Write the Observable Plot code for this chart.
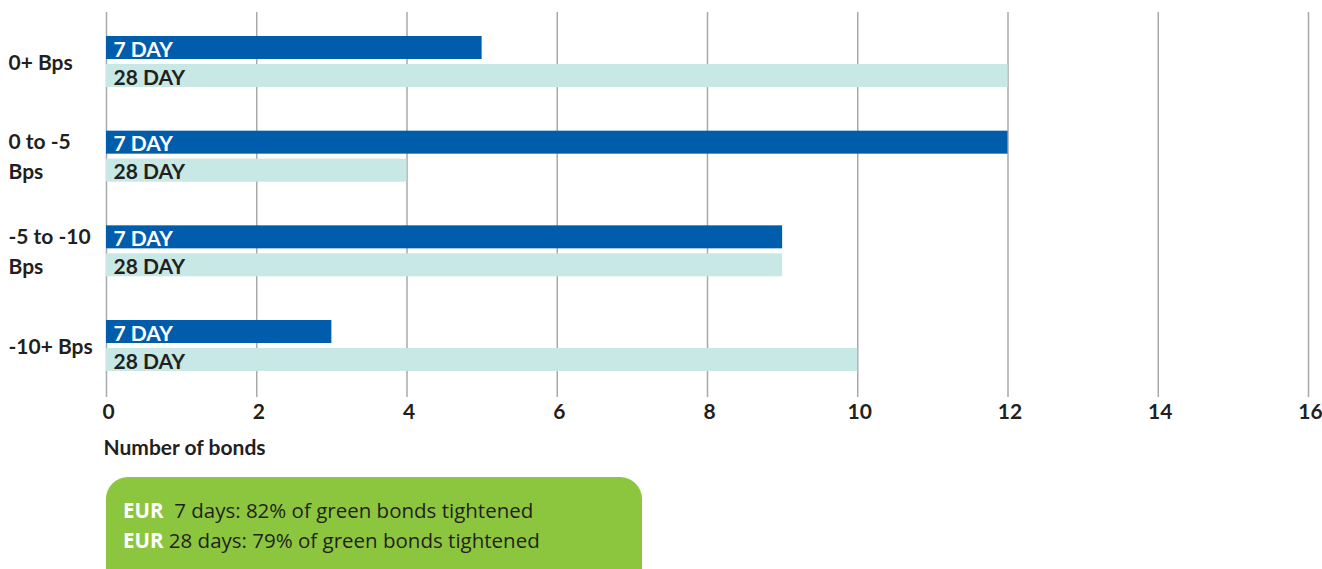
<!DOCTYPE html>
<html>
<head>
<meta charset="utf-8">
<script src="https://cdn.jsdelivr.net/npm/d3@7"></script>
<script src="https://cdn.jsdelivr.net/npm/@observablehq/plot@0.6"></script>
<style>
  html, body { margin: 0; padding: 0; background: #fff; }
  body { width: 1322px; height: 569px; overflow: hidden; position: relative; font-family: Lato, "Open Sans", sans-serif; }
  #chart { position: absolute; left: 0; top: 0; }
  #chart svg { overflow: visible; }
  #note {
    position: absolute; left: 106px; top: 477px; width: 536px; height: 130px;
    background: #8cc63f; border-radius: 22px; box-sizing: border-box;
    padding: 18px 0 0 17px; font-size: 20.5px; line-height: 30px; color: #231f20;
    font-family: "Open Sans", Lato, sans-serif;
  }
  #note b { color: #fff; font-weight: 700; }
</style>
</head>
<body>
<div id="chart"></div>
<div id="note"></div>
<script>
const categories = ["0+ Bps", "0 to -5 Bps", "-5 to -10 Bps", "-10+ Bps"];
const categoryLabels = ["0+ Bps", "0 to -5\nBps", "-5 to -10\nBps", "-10+ Bps"];
const series = ["7 DAY", "28 DAY"];
const values7 = [5, 12, 9, 3];
const values28 = [12, 4, 9, 10];
const xTicks = [0, 2, 4, 6, 8, 10, 12, 14, 16];
const xLabel = "Number of bonds";
const noteLines = [
  ["EUR", "\u00a0\u00a07 days: 82% of green bonds tightened"],
  ["EUR", " 28 days: 79% of green bonds tightened"]
];

const rows7 = categories.map((c, i) => ({category: c, series: series[0], value: values7[i]}));
const rows28 = categories.map((c, i) => ({category: c, series: series[1], value: values28[i]}));
const labelRows = categories.map((c, i) => ({category: c, label: categoryLabels[i]}));

const chart = Plot.plot({
  width: 1322,
  height: 465,
  marginLeft: 106,
  marginRight: 14,
  marginTop: 12,
  marginBottom: 68,
  style: {fontFamily: "Lato, 'Open Sans', sans-serif", fontSize: "21px", fontWeight: "bold", color: "#231f20", background: "#fff", overflow: "visible"},
  x: {domain: [0, 16]},
  y: {domain: categories, paddingInner: 0.4613, paddingOuter: 0.264, align: 0.48, round: false, axis: null},
  color: {domain: series, range: ["#005dab", "#c8e8e5"]},
  marks: [
    Plot.gridX(xTicks, {stroke: "#a7a9ac", strokeOpacity: 1, strokeWidth: 1.5}),
    Plot.barX(rows7, {x: "value", y: "category", fill: "series", insetBottom: 28}),
    Plot.barX(rows28, {x: "value", y: "category", fill: "series", insetTop: 28}),
    Plot.text(rows7, {x: 0, y: "category", text: "series", textAnchor: "start", dx: 7, dy: -12, fill: "#fff"}),
    Plot.text(rows28, {x: 0, y: "category", text: "series", textAnchor: "start", dx: 7, dy: 16, fill: "#231f20"}),
    Plot.text(labelRows, {y: "category", text: "label", frameAnchor: "left", textAnchor: "start", dx: -98, dy: -2, lineHeight: 1.43, fill: "#231f20"}),
    Plot.axisX(xTicks, {tickSize: 0, tickPadding: 7, dx: 2, label: null, fill: "#231f20"}),
    Plot.text([xLabel], {frameAnchor: "bottom-left", textAnchor: "start", dx: -3, dy: 57, fill: "#231f20"})
  ]
});
document.getElementById("chart").appendChild(chart);

const note = document.getElementById("note");
noteLines.forEach(([k, t]) => {
  const div = document.createElement("div");
  const b = document.createElement("b");
  b.textContent = k;
  div.appendChild(b);
  div.appendChild(document.createTextNode(t));
  note.appendChild(div);
});
</script>
</body>
</html>
